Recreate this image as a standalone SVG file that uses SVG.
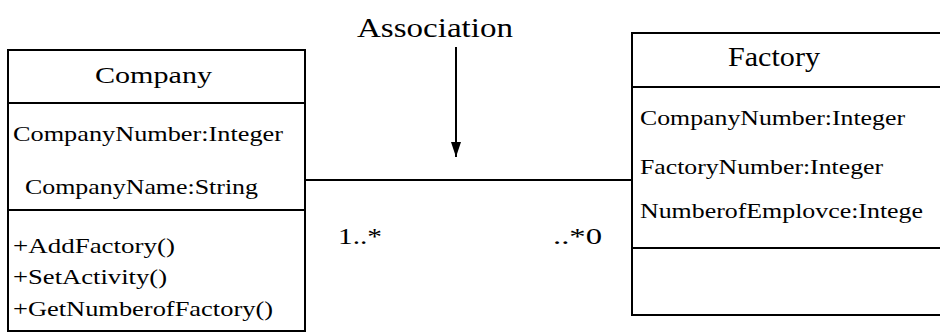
<svg xmlns="http://www.w3.org/2000/svg" width="940" height="332" viewBox="0 0 940 332">
<style>
.box{fill:#fff;stroke:#000;stroke-width:2}
.ln{stroke:#000;stroke-width:2;fill:none}
text{font-family:"Liberation Serif","Times New Roman",serif;fill:#000}
.t{font-size:24px}
.h{font-size:27px}
.a{font-size:22px}
.m{font-size:22px}
</style>
<defs>
<marker id="ah" markerWidth="15" markerHeight="10" refX="15" refY="5" orient="auto" markerUnits="userSpaceOnUse">
<path d="M0,0 L15,5 L0,10 Z" fill="#000"/>
</marker>
</defs>
<rect width="940" height="332" fill="#fff"/>
<g id="company">
<rect class="box" x="8" y="50" width="297" height="281"/>
<line class="ln" x1="8" y1="103" x2="305" y2="103"/>
<line class="ln" x1="8" y1="210" x2="305" y2="210"/>
<text class="t" x="95" y="83" textLength="117" lengthAdjust="spacingAndGlyphs">Company</text>
<text class="a" x="13" y="141" textLength="270" lengthAdjust="spacingAndGlyphs">CompanyNumber:Integer</text>
<text class="a" x="25" y="194" textLength="233" lengthAdjust="spacingAndGlyphs">CompanyName:String</text>
<text class="m" x="13" y="253" textLength="162" lengthAdjust="spacingAndGlyphs">+AddFactory()</text>
<text class="m" x="13" y="284" textLength="154" lengthAdjust="spacingAndGlyphs">+SetActivity()</text>
<text class="m" x="13" y="316" textLength="260" lengthAdjust="spacingAndGlyphs">+GetNumberofFactory()</text>
</g>
<g id="factory">
<rect class="box" x="632" y="33" width="320" height="282"/>
<line class="ln" x1="632" y1="87" x2="952" y2="87"/>
<line class="ln" x1="632" y1="248" x2="952" y2="248"/>
<text class="h" x="728" y="66" textLength="92" lengthAdjust="spacingAndGlyphs">Factory</text>
<text class="a" x="640" y="125" textLength="265" lengthAdjust="spacingAndGlyphs">CompanyNumber:Integer</text>
<text class="a" x="640" y="174" textLength="243" lengthAdjust="spacingAndGlyphs">FactoryNumber:Integer</text>
<text class="a" x="640" y="218" textLength="283" lengthAdjust="spacingAndGlyphs">NumberofEmplovce:Intege</text>
</g>
<g id="connectors">
<line class="ln" x1="305" y1="180" x2="632" y2="180"/>
<line class="ln" x1="456" y1="47" x2="456" y2="157" marker-end="url(#ah)"/>
</g>
<g id="labels">
<text class="h" x="357" y="37" textLength="156" lengthAdjust="spacingAndGlyphs">Association</text>
<text class="t" x="338" y="244" textLength="44" lengthAdjust="spacingAndGlyphs">1..*</text>
<text class="t" x="553" y="244" textLength="49" lengthAdjust="spacingAndGlyphs">..*0</text>
</g>
</svg>
